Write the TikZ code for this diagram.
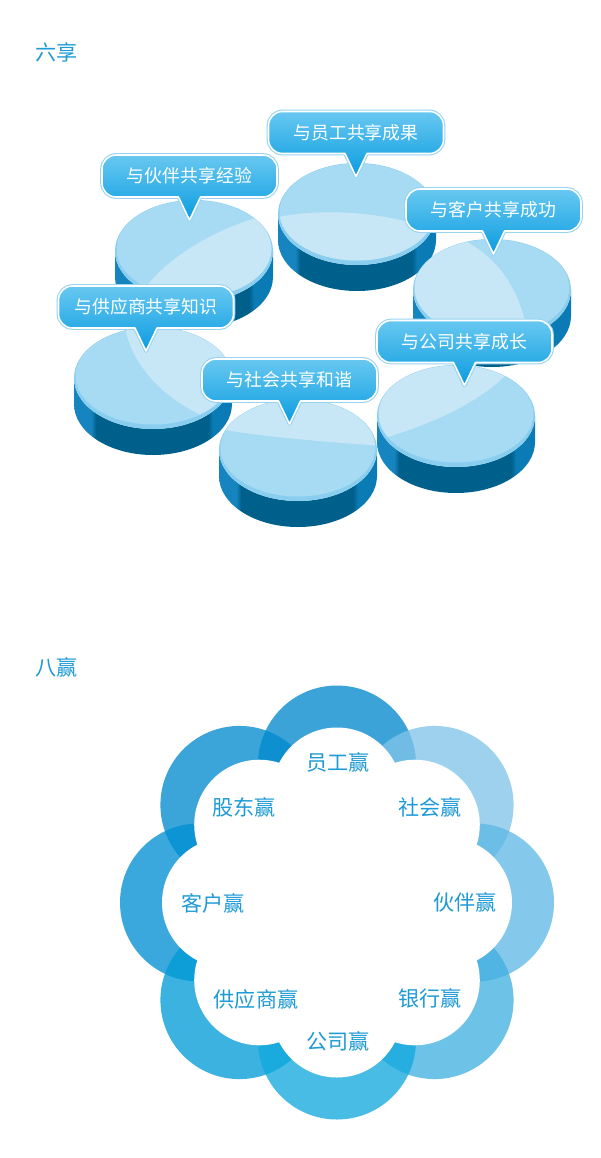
\documentclass[tikz,border=0pt]{standalone}
\usepackage{fontspec}
\setmainfont{Noto Sans CJK SC}
\definecolor{titleblue}{RGB}{30,154,214}
\definecolor{pietop}{RGB}{166,219,243}
\definecolor{pielight}{RGB}{199,231,247}
\definecolor{pierim}{RGB}{138,206,239}
\definecolor{sideL}{RGB}{22,132,190}
\definecolor{sideD}{RGB}{0,96,140}
\definecolor{sideR}{RGB}{10,123,180}
\definecolor{bubtop}{RGB}{104,200,241}
\definecolor{bubbot}{RGB}{10,156,224}
\definecolor{bubglow}{RGB}{150,212,241}
\definecolor{flT}{RGB}{0,136,204}
\definecolor{flTR}{RGB}{128,196,233}
\definecolor{flR}{RGB}{95,185,229}
\definecolor{flBR}{RGB}{65,176,224}
\definecolor{flB}{RGB}{17,169,222}
\definecolor{flBL}{RGB}{0,156,215}
\definecolor{flL}{RGB}{0,143,211}
\definecolor{flTL}{RGB}{0,138,207}
\pgfdeclarehorizontalshading{pieside}{100bp}{color(0bp)=(sideL); color(30.5bp)=(sideL); color(32bp)=(sideD); color(67.5bp)=(sideD); color(69bp)=(sideR); color(100bp)=(sideR)}
\tikzset{
  titletext/.style={text=titleblue, font=\fontsize{15}{18}\selectfont, inner sep=0pt, anchor=west},
  bubble/.style={top color=bubtop, bottom color=bubbot, draw=white, line width=1.1pt},
  bubbleglow/.style={draw=bubglow, line width=2.6pt},
  bubbletext/.style={text=white, font=\fontsize{12.7}{14}\selectfont, inner sep=0pt},
  wintext/.style={text=titleblue, font=\fontsize{15}{18}\selectfont, inner sep=0pt}
}
% #1,#2 centre of the top, #3 lighter slice
\newcommand\sharepie[3]{%
  \shade[shading=pieside] (#1-79,#2) -- (#1-79,#2+26) arc[start angle=180, end angle=0, x radius=79, y radius=51]
    -- (#1+79,#2) arc[start angle=0, end angle=180, x radius=79, y radius=51] -- cycle;
  \fill[pierim] (#1,#2) ellipse[x radius=79, y radius=51];
  \begin{scope}
    \clip (#1,#2-2) ellipse[x radius=77.5, y radius=48.5];
    \fill[pietop] (#1,#2-2) ellipse[x radius=77.5, y radius=48.5];
    \fill[pielight] #3;
  \end{scope}
}
% #1,#2 centre of the box, #3 name, #4 text
\newcommand\sharebubble[4]{%
  \foreach \st in {bubbleglow,bubble}
    \path[\st] (#1-73.5,#2-21) -- (#1+73.5,#2-21) arc[start angle=-90, end angle=0, radius=14]
      -- (#1+87.5,#2+7) arc[start angle=0, end angle=90, radius=14] -- (#1+11,#2+21) -- (#1,#2+44)
      -- (#1-11,#2+21) -- (#1-73.5,#2+21) arc[start angle=90, end angle=180, radius=14]
      -- (#1-87.5,#2-7) arc[start angle=180, end angle=270, radius=14] -- cycle;
  \node[bubbletext] (#3) at (#1,#2) {#4};
}
\begin{document}
\begin{tikzpicture}[x=0.025cm, y=-0.025cm, line join=round]
\useasboundingbox (0,0) rectangle (600,1158);
\fill[white] (0,0) rectangle (600,1158);

% six shares
\node[titletext] (six) at (35,52) {六享};
\sharepie{357}{214}{(270,219) .. controls (320,206) and (400,212) .. (445,236) -- (445,280) -- (270,280) -- cycle}
\sharebubble{356}{132.5}{staff}{与员工共享成果}
\sharepie{194}{251}{(262,216) .. controls (220,228) and (165,255) .. (138,298) -- (280,310) -- (280,200) -- cycle}
\sharebubble{189.5}{176}{partner}{与伙伴共享经验}
\sharepie{492}{290}{(455,236) .. controls (492,252) and (517,282) .. (526,326) -- (400,330) -- (400,230) -- cycle}
\sharebubble{493.5}{210}{client}{与客户共享成功}
\sharepie{153}{378}{(124,322) .. controls (130,368) and (170,405) .. (218,422) -- (240,420) -- (240,320) -- cycle}
\sharebubble{146}{307}{supplier}{与供应商共享知识}
\sharepie{456}{416}{(374,441) .. controls (420,428) and (482,405) .. (514,366) -- (520,360) -- (370,360) -- cycle}
\sharebubble{464.5}{341.5}{company}{与公司共享成长}
\sharepie{298}{450}{(215,428) .. controls (260,437) and (330,442) .. (382,446) -- (382,390) -- (215,390) -- cycle}
\sharebubble{289.5}{380}{society}{与社会共享和谐}

% eight wins
\node[titletext] (eight) at (35,667.5) {八赢};
\begin{scope}[shift={(337,902.5)}]
  \foreach \a/\c in {-90/flT,-45/flTR,0/flR,45/flBR,225/flTL,180/flL,135/flBL,90/flB}
    \fill[\c, opacity=0.77] (\a:138) circle[radius=79];
  \fill[white] (0,0) circle[radius=115];
  \foreach \a in {0,45,...,315}
    \fill[white] (\a:110) circle[radius=65];
\end{scope}
\node[wintext] (wstaff) at (338,762) {员工赢};
\node[wintext] (wsociety) at (430,807) {社会赢};
\node[wintext] (wpartner) at (465,902) {伙伴赢};
\node[wintext] (wbank) at (430,998) {银行赢};
\node[wintext] (wcompany) at (338,1041) {公司赢};
\node[wintext] (wsupplier) at (256,999) {供应商赢};
\node[wintext] (wclient) at (213,903) {客户赢};
\node[wintext] (wholder) at (244,807) {股东赢};
\end{tikzpicture}
\end{document}
